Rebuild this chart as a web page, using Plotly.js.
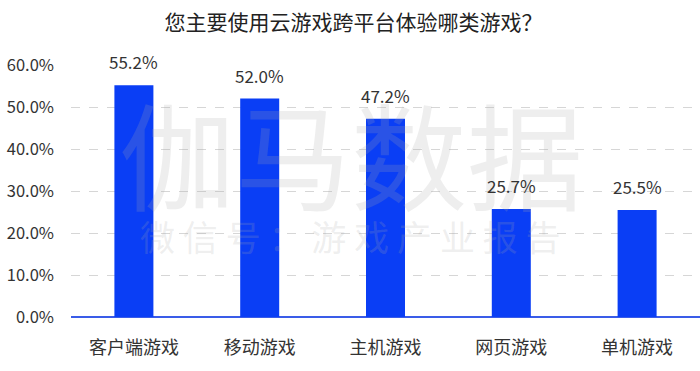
<!DOCTYPE html>
<html><head><meta charset="utf-8">
<script src="https://cdn.plot.ly/plotly-3.0.1.min.js"></script>
<style>html,body{margin:0;padding:0;background:#fff}#chart{width:700px;height:371px}</style>
</head><body><div id="chart"></div>
<script>
const categories = ['客户端游戏','移动游戏','主机游戏','网页游戏','单机游戏'];
const values = [55.2, 52.0, 47.2, 25.7, 25.5];
const tickVals = [0,10,20,30,40,50,60];
const tickText = ['0.0%','10.0%','20.0%','30.0%','40.0%','50.0%','60.0%'];
const font = '"Noto Sans CJK SC", "Noto Sans", sans-serif';

const trace = {
  type: 'bar', x: categories, y: values,
  marker: {color: '#0a3ef5'},
  hoverinfo: 'none'
};
const valueLabels = categories.map((c, i) => ({
  x: c, y: values[i], xref: 'x', yref: 'y', text: values[i].toFixed(1) + '%',
  showarrow: false, yanchor: 'bottom', yshift: 9,
  font: {family: font, size: 17, color: '#333'}
}));
const layout = {
  width: 700, height: 371,
  margin: {l: 71, r: 0, t: 65, b: 54},
  paper_bgcolor: '#fff', plot_bgcolor: '#fff',
  title: {text: '您主要使用云游戏跨平台体验哪类游戏？', x: 0.505, xanchor: 'center', y: 0.94, yanchor: 'middle',
          font: {family: font, size: 21, color: '#222'}},
  bargap: 0.69,
  showlegend: false,
  xaxis: {tickfont: {family: font, size: 18, color: '#333'}, showline: false, ticks: '', showgrid: false,
          ticklabelstandoff: 18},
  yaxis: {range: [0, 60], tickvals: tickVals, ticktext: tickText, showgrid: true,
          gridcolor: '#d6d6d6', griddash: 'dash', gridwidth: 1,
          zeroline: true, zerolinecolor: '#3a5ce8', zerolinewidth: 1.5,
          tickfont: {family: font, size: 16.5, color: '#333'}, ticklabelstandoff: 16, showline: false},
  annotations: [
    {text: '伽马数据', x: 0.445, y: 0.66, xref: 'paper', yref: 'paper', xanchor: 'center', yanchor: 'middle', showarrow: false,
     font: {family: font, size: 116, color: 'rgba(170,170,170,0.2)'}},
    {text: '微 信 号 ： 游 戏 产 业 报 告', x: 0.445, y: 0.325, xref: 'paper', yref: 'paper', xanchor: 'center', yanchor: 'middle', showarrow: false,
     font: {family: font, size: 35, color: 'rgba(170,170,170,0.2)'}}
  ].concat(valueLabels)
};
Plotly.newPlot('chart', [trace], layout, {displayModeBar: false, staticPlot: true});
</script></body></html>
